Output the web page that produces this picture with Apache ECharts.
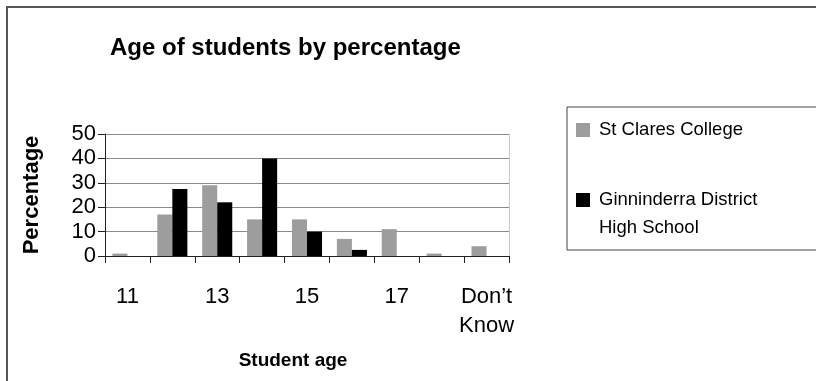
<!DOCTYPE html>
<html>
<head>
<meta charset="utf-8">
<script src="https://cdn.jsdelivr.net/npm/echarts@6/dist/echarts.min.js"></script>
<style>
  html, body { margin: 0; padding: 0; background: #fff; }
  #chart { width: 816px; height: 381px; }
</style>
</head>
<body>
<div id="chart"></div>
<script>
// Student age groups and the share of students in each
const ageCategories = ['11', '12', '13', '14', '15', '16', '17', '18', 'Don\u2019t\nKnow'];
const stClaresCollege = [1, 17, 29, 15, 15, 7, 11, 1, 4];
const ginninderraHigh = [0, 27.5, 22, 40, 10, 2.5, 0, 0, 0];
const percentTicks = { min: 0, max: 50, interval: 10 };
const schoolNames = ['St Clares College', 'Ginninderra District\nHigh School'];

const FONT = '"Liberation Sans", Arial, Helvetica, sans-serif';

const chart = echarts.init(document.getElementById('chart'), null, { renderer: 'canvas' });

chart.setOption({
  backgroundColor: '#fff',
  animation: false,
  graphic: [{
    // outer chart frame
    type: 'rect',
    shape: { x: 7, y: 7, width: 900, height: 500 },
    style: { fill: 'none', stroke: '#555', lineWidth: 2 },
    silent: true,
    z: -1
  }],
  title: {
    text: 'Age of students by percentage',
    left: 110,
    top: 36,
    padding: 0,
    textStyle: { fontFamily: FONT, fontSize: 24, fontWeight: 'bold', color: '#000' }
  },
  legend: {
    orient: 'vertical',
    left: 567,
    top: 107,
    padding: [9, 60, 8, 9],
    itemWidth: 14,
    itemHeight: 14,
    itemGap: 14,
    icon: 'rect',
    backgroundColor: '#fff',
    borderColor: '#444',
    borderWidth: 1,
    // a multi-line name keeps its first line level with the swatch
    formatter: name => (name.indexOf('\n') >= 0 ? '\n' + name : name),
    textStyle: { fontFamily: FONT, fontSize: 18.5, color: '#000', lineHeight: 28, padding: [0, 0, 0, 4] },
    data: schoolNames
  },
  grid: { left: 105, right: 307, top: 134, bottom: 125 },
  xAxis: {
    type: 'category',
    data: ageCategories,
    name: 'Student age',
    nameLocation: 'middle',
    nameGap: 95,
    nameMoveOverlap: false,
    nameTextStyle: { fontFamily: FONT, fontSize: 19, fontWeight: 'bold', color: '#000', padding: [0, 28, 0, 0] },
    axisLine: { lineStyle: { color: '#222', width: 1 } },
    axisTick: { show: true, alignWithLabel: false, interval: 0, length: 7, lineStyle: { color: '#222' } },
    axisLabel: {
      interval: 1,
      margin: 26,
      fontFamily: FONT,
      fontSize: 22,
      lineHeight: 29,
      color: '#000'
    },
    splitLine: { show: false }
  },
  yAxis: [{
    type: 'value',
    min: percentTicks.min,
    max: percentTicks.max,
    interval: percentTicks.interval,
    name: 'Percentage',
    nameLocation: 'middle',
    nameGap: 62,
    nameMoveOverlap: false,
    nameRotate: 90,
    nameTextStyle: { fontFamily: FONT, fontSize: 22, fontWeight: 'bold', color: '#000' },
    axisLine: { show: true, lineStyle: { color: '#222', width: 1 } },
    axisTick: { show: true, length: 7, lineStyle: { color: '#222' } },
    axisLabel: { margin: 9, fontFamily: FONT, fontSize: 22, color: '#000' },
    splitLine: { show: true, lineStyle: { color: '#8a8a8a', width: 1 } }
  }, {
    // right border of the plot area
    type: 'value',
    position: 'right',
    min: percentTicks.min,
    max: percentTicks.max,
    interval: percentTicks.interval,
    axisLine: { show: true, lineStyle: { color: '#c8c8c8', width: 1 } },
    axisTick: { show: false },
    axisLabel: { show: false },
    splitLine: { show: false }
  }],
  series: [
    {
      name: schoolNames[0],
      type: 'bar',
      data: stClaresCollege,
      barGap: '0%',
      barCategoryGap: '33%',
      itemStyle: { color: '#9d9d9d' }
    },
    {
      name: schoolNames[1],
      type: 'bar',
      data: ginninderraHigh,
      barGap: '0%',
      barCategoryGap: '33%',
      itemStyle: { color: '#000' }
    }
  ]
});
</script>
</body>
</html>
